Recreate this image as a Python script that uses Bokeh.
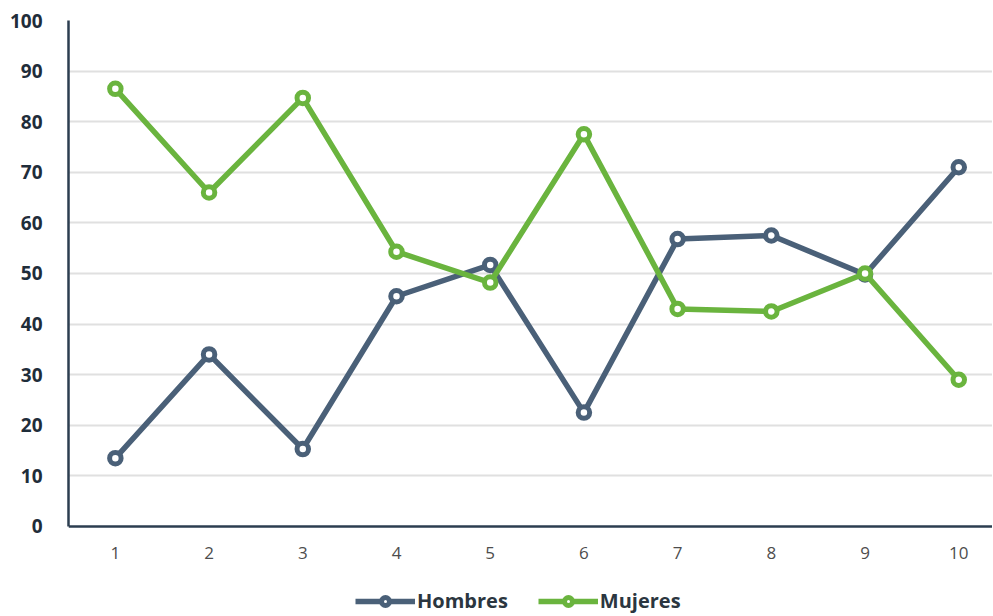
from bokeh.plotting import figure
from bokeh.models import Range1d, Legend, LegendItem, FixedTicker, ColumnDataSource, Span
from bokeh.core.properties import value
from bokeh.embed import file_html
from bokeh.resources import INLINE

x = [1, 2, 3, 4, 5, 6, 7, 8, 9, 10]
x_labels = ["1", "2", "3", "4", "5", "6", "7", "8", "9", "10"]
hombres = [13.5, 34, 15.3, 45.5, 51.7, 22.5, 56.8, 57.5, 49.8, 71]
mujeres = [86.5, 66, 84.7, 54.3, 48.2, 77.5, 43, 42.5, 50, 29]
y_ticks = [0, 10, 20, 30, 40, 50, 60, 70, 80, 90, 100]
grid_ticks = [10, 20, 30, 40, 50, 60, 70, 80, 90, 100]

C_H = "#4a6078"
C_M = "#6ab43e"
C_AXIS = "#2c3e50"
FONT = "Open Sans"

src = ColumnDataSource(dict(x=x, h=hombres, m=mujeres, lab=x_labels, zero=[0] * len(x)))

p = figure(width=992, height=614, output_backend="svg", toolbar_location=None,
           x_range=Range1d(0.5, 10.36), y_range=Range1d(-17.4, 100),
           x_axis_location=None,
           min_border_left=68, min_border_right=0, min_border_top=20, min_border_bottom=0)
p.outline_line_color = None
p.background_fill_color = "white"

p.yaxis.ticker = FixedTicker(ticks=y_ticks)
p.yaxis.bounds = (0, 100)
p.ygrid.ticker = FixedTicker(ticks=grid_ticks)
p.xgrid.grid_line_color = None
p.ygrid.grid_line_color = "#e0e0e0"
p.ygrid.grid_line_width = 2

p.yaxis.axis_line_color = C_AXIS
p.yaxis.axis_line_width = 2.5
p.yaxis.major_tick_line_color = None
p.yaxis.minor_tick_line_color = None
p.yaxis.major_label_text_font = FONT
p.yaxis.major_label_text_font_size = "19px"
p.yaxis.major_label_text_font_style = "bold"
p.yaxis.major_label_text_color = "#1f2d3a"
p.yaxis.major_label_standoff = 20

# x axis line at zero
p.add_layout(Span(location=0, dimension="width", line_color=C_AXIS, line_width=2.5))

# x tick labels
p.text(x="x", y="zero", text="lab", source=src, y_offset=27,
       text_align="center", text_baseline="middle",
       text_font=value(FONT), text_font_size="17px", text_color="#4d4d4d")

lh = p.line("x", "h", source=src, line_color=C_H, line_width=5.5)
sh = p.scatter("x", "h", source=src, marker="circle", size=11.5, fill_color="white",
               line_color=C_H, line_width=5)
lm = p.line("x", "m", source=src, line_color=C_M, line_width=5.5)
sm = p.scatter("x", "m", source=src, marker="circle", size=11.5, fill_color="white",
               line_color=C_M, line_width=5)

legend = Legend(items=[LegendItem(label="Hombres", renderers=[lh, sh]),
                       LegendItem(label="Mujeres", renderers=[lm, sm])],
                orientation="horizontal", location=(287, 0))
legend.border_line_color = None
legend.background_fill_alpha = 0
legend.label_text_font = FONT
legend.label_text_font_size = "20px"
legend.label_text_font_style = "bold"
legend.label_text_color = "#2b3640"
legend.glyph_width = 60
legend.spacing = 30
legend.label_standoff = 2
legend.padding = 0
legend.margin = 0
p.add_layout(legend, "center")

open("out.html", "w").write(file_html(p, INLINE))
